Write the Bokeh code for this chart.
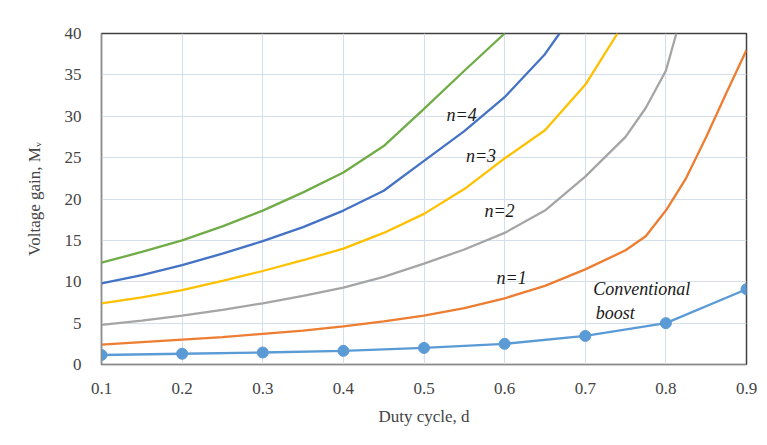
from bokeh.plotting import figure
from bokeh.models import Label, FixedTicker, Range1d
from bokeh.embed import file_html
from bokeh.resources import INLINE

# ---- data ----
x_ticks = [0.1, 0.2, 0.3, 0.4, 0.5, 0.6, 0.7, 0.8, 0.9]
y_ticks = [0, 5, 10, 15, 20, 25, 30, 35, 40]

conv_d = [0.1, 0.2, 0.3, 0.4, 0.5, 0.6, 0.7, 0.8, 0.9]
conv_gain = [1.15, 1.3, 1.45, 1.65, 2.0, 2.5, 3.45, 5.0, 9.1]

orange_d = [0.1, 0.15, 0.2, 0.25, 0.3, 0.35, 0.4, 0.45, 0.5, 0.55, 0.6, 0.65, 0.7,
            0.75, 0.775, 0.8, 0.825, 0.85, 0.875, 0.9]
orange_gain = [2.4, 2.7, 3.0, 3.3, 3.7, 4.1, 4.6, 5.2, 5.9, 6.8, 8.0, 9.5, 11.5,
               13.8, 15.5, 18.6, 22.5, 27.5, 32.8, 38.0]

grey_d = [0.1, 0.15, 0.2, 0.25, 0.3, 0.35, 0.4, 0.45, 0.5, 0.55, 0.6, 0.65, 0.7,
          0.75, 0.775, 0.8, 0.813]
grey_gain = [4.8, 5.3, 5.9, 6.6, 7.4, 8.3, 9.3, 10.6, 12.2, 13.9, 15.9, 18.6, 22.7,
             27.5, 31.0, 35.5, 40.0]

yellow_d = [0.1, 0.15, 0.2, 0.25, 0.3, 0.35, 0.4, 0.45, 0.5, 0.55, 0.6, 0.65, 0.7, 0.74]
yellow_gain = [7.4, 8.1, 9.0, 10.1, 11.3, 12.6, 14.0, 15.9, 18.2, 21.2, 24.9, 28.3, 33.8, 40.0]

blue_d = [0.1, 0.15, 0.2, 0.25, 0.3, 0.35, 0.4, 0.45, 0.5, 0.55, 0.6, 0.65, 0.668]
blue_gain = [9.8, 10.8, 12.0, 13.4, 14.9, 16.6, 18.6, 21.0, 24.6, 28.2, 32.3, 37.5, 40.0]

green_d = [0.1, 0.15, 0.2, 0.25, 0.3, 0.35, 0.4, 0.45, 0.5, 0.55, 0.6]
green_gain = [12.3, 13.6, 15.0, 16.7, 18.6, 20.8, 23.2, 26.4, 30.9, 35.5, 40.0]

curve_labels = ["n=4", "n=3", "n=2", "n=1"]
curve_label_d = [0.528, 0.552, 0.575, 0.590]
curve_label_gain = [29.0, 24.0, 17.3, 9.2]

x_title = "Duty cycle, d"
y_title = "Voltage gain, Mᵥ"

SERIF = "'Liberation Serif'"

p = figure(width=760, height=440, output_backend="svg", toolbar_location=None,
           x_range=Range1d(0.1, 0.9), y_range=Range1d(0, 40),
           min_border_left=101, min_border_right=14, min_border_top=33, min_border_bottom=76)
p.outline_line_color = "#404040"
p.outline_line_width = 1.5

p.xaxis.ticker = FixedTicker(ticks=x_ticks)
p.yaxis.ticker = FixedTicker(ticks=y_ticks)
p.xaxis.major_label_text_font = SERIF
p.yaxis.major_label_text_font = SERIF
p.xaxis.major_label_text_font_size = "17px"
p.yaxis.major_label_text_font_size = "17px"
p.xaxis.major_tick_line_color = None
p.yaxis.major_tick_line_color = None
p.xaxis.minor_tick_line_color = None
p.yaxis.minor_tick_line_color = None
p.xaxis.axis_line_color = "#8c8c8c"
p.yaxis.axis_line_color = "#8c8c8c"
p.xaxis.major_label_standoff = 12
p.yaxis.major_label_standoff = 14

p.xaxis.axis_label = x_title
p.xaxis.axis_label_text_font = SERIF
p.xaxis.axis_label_text_font_style = "normal"
p.xaxis.axis_label_text_font_size = "17px"
p.xaxis.axis_label_standoff = 10
p.yaxis.axis_label = y_title
p.yaxis.axis_label_text_font = SERIF
p.yaxis.axis_label_text_font_style = "normal"
p.yaxis.axis_label_text_font_size = "17px"
p.yaxis.axis_label_standoff = 18

p.xgrid.ticker = FixedTicker(ticks=x_ticks)
p.ygrid.ticker = FixedTicker(ticks=y_ticks)
p.xgrid.grid_line_color = "#d5dfec"
p.ygrid.grid_line_color = "#d5dfec"

LW = 2.3
p.line(green_d, green_gain, line_color="#70AD47", line_width=LW)
p.line(blue_d, blue_gain, line_color="#4472C4", line_width=LW)
p.line(yellow_d, yellow_gain, line_color="#FFC000", line_width=LW)
p.line(grey_d, grey_gain, line_color="#A5A5A5", line_width=LW)
p.line(orange_d, orange_gain, line_color="#ED7D31", line_width=LW)
p.line(conv_d, conv_gain, line_color="#5B9BD5", line_width=LW)
p.scatter(conv_d, conv_gain, size=11, fill_color="#5B9BD5", line_color="#5B9BD5")

for t, xd, yd in zip(curve_labels, curve_label_d, curve_label_gain):
    p.add_layout(Label(x=xd, y=yd, text=t, text_font=SERIF, text_font_size="18px",
                       text_font_style="italic", text_color="#1a1a1a"))

p.add_layout(Label(x=0.710, y=7.9, text="Conventional", text_font=SERIF,
                   text_font_size="18px", text_font_style="italic", text_color="#1a1a1a"))
p.add_layout(Label(x=0.713, y=5.0, text="boost", text_font=SERIF,
                   text_font_size="18px", text_font_style="italic", text_color="#1a1a1a"))

open("out.html", "w").write(file_html(p, INLINE))
